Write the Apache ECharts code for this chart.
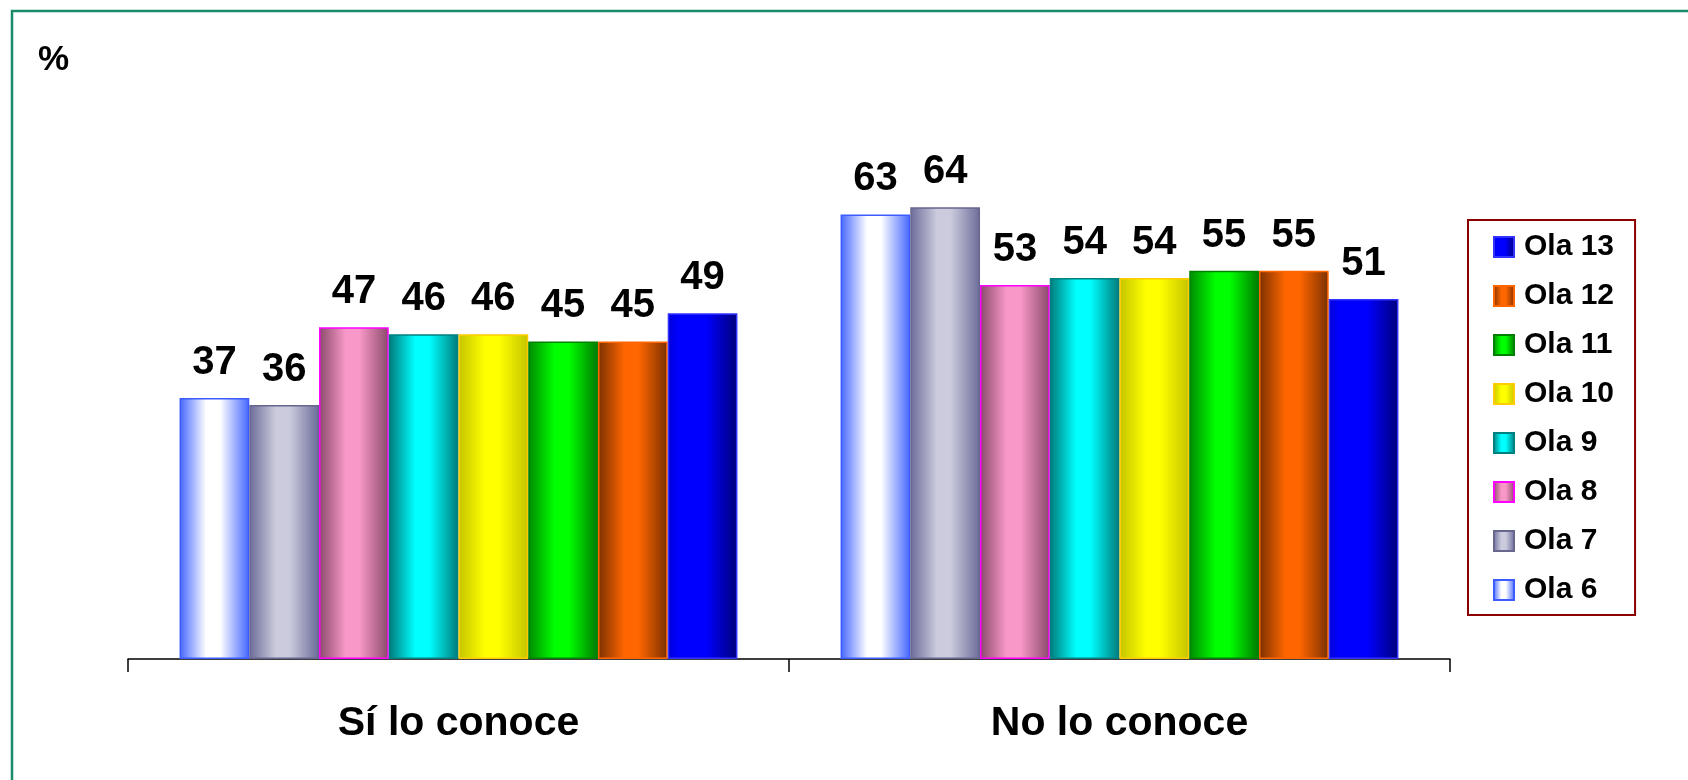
<!DOCTYPE html>
<html>
<head>
<meta charset="utf-8">
<script src="https://cdn.jsdelivr.net/npm/echarts@6/dist/echarts.min.js"></script>
<style>
html,body{margin:0;padding:0;background:#fff;}
#chart{width:1688px;height:780px;}
</style>
</head>
<body>
<div id="chart"></div>
<script>
// ---- data ----
var categories = ['Sí lo conoce', 'No lo conoce'];
var seriesNames = ['Ola 6', 'Ola 7', 'Ola 8', 'Ola 9', 'Ola 10', 'Ola 11', 'Ola 12', 'Ola 13'];
var ola6  = [37, 63];
var ola7  = [36, 64];
var ola8  = [47, 53];
var ola9  = [46, 54];
var ola10 = [46, 54];
var ola11 = [45, 55];
var ola12 = [45, 55];
var ola13 = [49, 51];
var legendOrder = ['Ola 13', 'Ola 12', 'Ola 11', 'Ola 10', 'Ola 9', 'Ola 8', 'Ola 7', 'Ola 6'];
var unitLabel = '%';

// ---- styles ----
var seriesValues = [ola6, ola7, ola8, ola9, ola10, ola11, ola12, ola13];
var edgeColors  = ['#4466ff', '#6b6b99', '#8a4a6a', '#007a7a', '#c4c400', '#007a00', '#7a3000', '#00007a'];
var lightColors = ['#ffffff', '#cbcbdd', '#f898c8', '#00ffff', '#ffff00', '#00ff00', '#ff6600', '#0000ff'];
var leftColors  = ['#4466ff', '#6b6b99', '#8a4a6a', '#007a7a', '#c4c400', '#008a00', '#7a3000', '#0000d8'];
var borderColors = ['#3d5cff', '#66668f', '#ff00ff', '#008080', '#ffcc00', '#008000', '#ff6600', '#3333ff'];
var FONT = '"Liberation Sans", Arial, sans-serif';

function grad(i) {
  var stops = (i === 7)
    ? [{offset: 0, color: leftColors[i]}, {offset: 0.15, color: lightColors[i]}, {offset: 0.55, color: lightColors[i]}, {offset: 1, color: edgeColors[i]}]
    : [{offset: 0, color: leftColors[i]}, {offset: 0.38, color: lightColors[i]}, {offset: 0.58, color: lightColors[i]}, {offset: 1, color: edgeColors[i]}];
  return new echarts.graphic.LinearGradient(0, 0, 1, 0, stops);
}

var series = seriesNames.map(function (name, i) {
  return {
    name: name,
    type: 'bar',
    data: seriesValues[i],
    barGap: '0%',
    barCategoryGap: '15.6%',
    itemStyle: {
      color: grad(i),
      borderColor: borderColors[i],
      borderWidth: 1.5
    },
    label: {
      show: true,
      position: 'top',
      distance: 15,
      fontSize: 40,
      fontWeight: 'bold',
      fontFamily: FONT,
      color: '#000'
    }
  };
});

var chart = echarts.init(document.getElementById('chart'));
chart.setOption({
  animation: false,
  backgroundColor: '#fff',
  grid: {left: 128, right: 238, top: 165, bottom: 121},
  legend: {
    data: legendOrder,
    orient: 'vertical',
    left: 1468,
    top: 220,
    padding: [12, 21, 10, 25],
    itemWidth: 20,
    itemHeight: 20,
    itemGap: 19,
    icon: 'rect',
    borderColor: '#8b0000',
    borderWidth: 2,
    textStyle: {fontSize: 30, fontWeight: 'bold', fontFamily: FONT, color: '#000', padding: [0, 0, 0, 5]}
  },
  xAxis: {
    type: 'category',
    data: categories,
    axisLine: {lineStyle: {color: '#000', width: 1.5}},
    axisTick: {show: true, length: 13, lineStyle: {color: '#000', width: 1.5}},
    axisLabel: {fontSize: 41, fontWeight: 'bold', fontFamily: FONT, color: '#000', margin: 44}
  },
  yAxis: {
    type: 'value',
    min: 0,
    max: 70,
    show: false,
    splitLine: {show: false}
  },
  graphic: [
    {
      type: 'rect',
      shape: {x: 12, y: 11, width: 2000, height: 2000},
      style: {fill: 'none', stroke: '#1b8a6b', lineWidth: 2.5},
      silent: true,
      z: -1
    },
    {
      type: 'text',
      left: 38,
      top: 43,
      style: {text: unitLabel, fontSize: 35, fontWeight: 'bold', fontFamily: FONT, fill: '#000'}
    }
  ],
  series: series
});
</script>
</body>
</html>
